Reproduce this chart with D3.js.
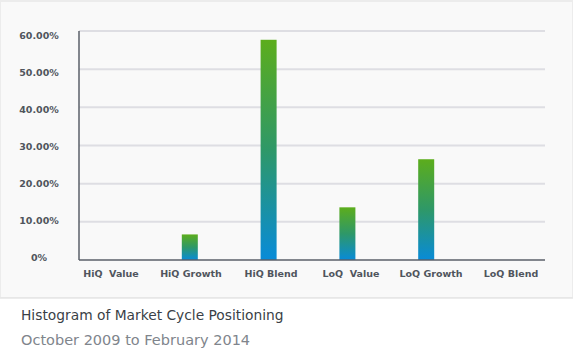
<!DOCTYPE html>
<html>
<head>
  <meta charset="utf-8">
  <title>Histogram of Market Cycle Positioning</title>
  <style>
    body { margin: 0; background: #fff; }
  </style>
</head>
<body>
  <div id="chart"></div>
  <script src="https://cdn.jsdelivr.net/npm/d3@7"></script>
  <script>
    var categories = ["HiQ  Value", "HiQ Growth", "HiQ Blend", "LoQ  Value", "LoQ Growth", "LoQ Blend"];
    var values = [0, 6.7, 57.7, 13.8, 26.4, 0];
    var yTicks = [0, 10, 20, 30, 40, 50, 60];
    var title = "Histogram of Market Cycle Positioning";
    var subtitle = "October 2009 to February 2014";

    var width = 573, height = 353;
    var margin = {top: 31, right: 28, bottom: 93, left: 79};
    var gridRight = 545;

    var svg = d3.select("#chart").append("svg")
      .attr("width", width)
      .attr("height", height);

    // panel background
    svg.append("rect").attr("x", 0).attr("y", 0).attr("width", width).attr("height", 298)
      .attr("fill", "#ececec");
    svg.append("rect").attr("x", 1).attr("y", 2).attr("width", width - 2).attr("height", 295)
      .attr("fill", "#f9f9f9");
    svg.append("rect").attr("x", 0).attr("y", 298).attr("width", width).attr("height", 55)
      .attr("fill", "#ffffff");
    svg.append("line").attr("x1", 0).attr("x2", width).attr("y1", 298).attr("y2", 298)
      .attr("stroke", "#e6e6e6").attr("stroke-width", 1.5);

    var defs = svg.append("defs");
    var grad = defs.append("linearGradient").attr("id", "barGrad")
      .attr("x1", 0).attr("y1", 0).attr("x2", 0).attr("y2", 1);
    grad.append("stop").attr("offset", "0%").attr("stop-color", "#5cad1c");
    grad.append("stop").attr("offset", "50%").attr("stop-color", "#2e9868");
    grad.append("stop").attr("offset", "100%").attr("stop-color", "#088bd8");

    // bar centres and label centres
    var xBar = d3.scalePoint().domain(categories).range([111, 505]);
    var xLabel = d3.scalePoint().domain(categories).range([111, 511]);
    var barWidth = 16;

    var y = d3.scaleLinear()
      .domain([0, 60])
      .range([height - margin.bottom, margin.top]);
    // tick labels sit slightly off the gridlines
    var yLab = d3.scaleLinear()
      .domain([0, 60])
      .range([258, 35.5]);

    var g = svg.append("g");

    // gridlines
    g.selectAll("line.grid")
      .data(yTicks.slice(1))
      .enter()
      .append("line")
      .attr("class", "grid")
      .attr("x1", margin.left)
      .attr("x2", gridRight)
      .attr("y1", function(d) { return y(d); })
      .attr("y2", function(d) { return y(d); })
      .attr("stroke", "#dedee3")
      .attr("stroke-width", 2);

    // y labels
    g.selectAll("text.ylab")
      .data(yTicks)
      .enter()
      .append("text")
      .attr("class", "ylab")
      .attr("x", 39)
      .attr("y", function(d) { return yLab(d); })
      .attr("dy", "0.35em")
      .attr("text-anchor", "middle")
      .attr("font-family", "'DejaVu Sans', sans-serif")
      .attr("font-size", "9.5px")
      .attr("font-weight", "bold")
      .attr("fill", "#50555d")
      .text(function(d) { return d === 0 ? "0%" : d.toFixed(2) + "%"; });

    // bars
    g.selectAll("rect.bar")
      .data(values)
      .enter()
      .append("rect")
      .attr("class", "bar")
      .attr("x", function(d, i) { return xBar(categories[i]) - barWidth / 2; })
      .attr("width", barWidth)
      .attr("y", function(d) { return y(d); })
      .attr("height", function(d) { return y(0) - y(d); })
      .attr("fill", "url(#barGrad)")
      .style("display", function(d) { return d > 0 ? null : "none"; });

    // axis lines
    g.append("line")
      .attr("x1", margin.left).attr("x2", margin.left)
      .attr("y1", y(60)).attr("y2", y(0))
      .attr("stroke", "#5a5f68").attr("stroke-width", 1.5);
    g.append("line")
      .attr("x1", margin.left).attr("x2", gridRight)
      .attr("y1", y(0)).attr("y2", y(0))
      .attr("stroke", "#5a5f68").attr("stroke-width", 1.5);

    // x labels
    g.selectAll("text.xlab")
      .data(categories)
      .enter()
      .append("text")
      .attr("class", "xlab")
      .attr("x", function(d) { return xLabel(d); })
      .attr("y", 277)
      .attr("text-anchor", "middle")
      .attr("font-family", "'DejaVu Sans', sans-serif")
      .attr("font-size", "9.5px")
      .attr("font-weight", "bold")
      .attr("fill", "#50555d")
      .style("white-space", "pre")
      .text(function(d) { return d; });

    // titles
    svg.append("text")
      .attr("x", 21).attr("y", 320)
      .attr("font-family", "'DejaVu Sans', sans-serif")
      .attr("font-size", "13.8px")
      .attr("fill", "#3a3f47")
      .text(title);
    svg.append("text")
      .attr("x", 21).attr("y", 345)
      .attr("font-family", "'DejaVu Sans', sans-serif")
      .attr("font-size", "14.5px")
      .attr("fill", "#80858c")
      .text(subtitle);
  </script>
</body>
</html>
